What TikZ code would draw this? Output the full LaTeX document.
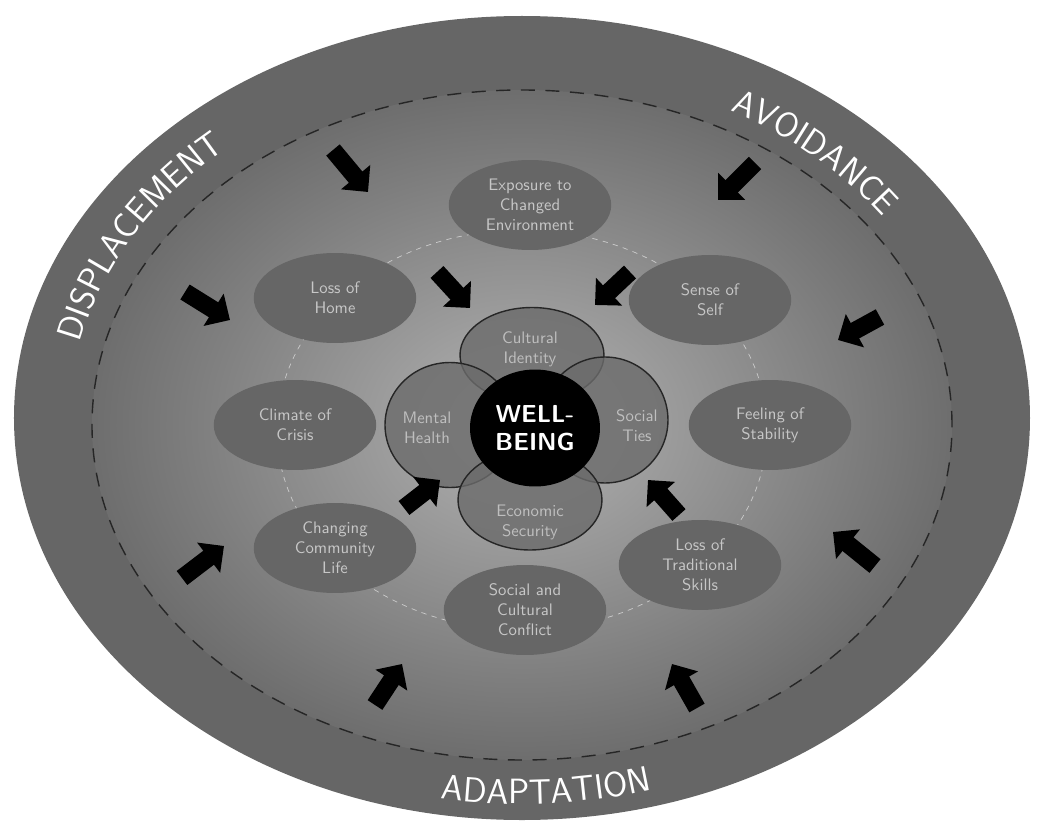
\documentclass[tikz,border=0pt]{standalone}
\usepackage{fontspec}
\usetikzlibrary{shapes.geometric,arrows.meta,decorations.text}

\newcommand\ringfont{\sffamily\fontsize{20}{24}\selectfont}

\begin{document}
\begin{tikzpicture}[x=0.02cm,y=0.02cm,
    sat/.style={ellipse,fill=black!60,minimum width=3.25cm,minimum height=1.8cm,inner sep=0pt,
        align=center,text=black!22,font=\sffamily\fontsize{9.5}{11.4}\selectfont},
    petal/.style={ellipse,fill=black!58,fill opacity=0.8,draw=black!85,thick,inner sep=0pt},
    petaltext/.style={align=center,text=black!25,font=\sffamily\fontsize{9.5}{11.4}\selectfont},
    core/.style={ellipse,fill=black,minimum width=2.6cm,minimum height=2.34cm,inner sep=0pt,
        align=center,text=white,font=\sffamily\bfseries\fontsize{14}{16}\selectfont},
    blockarrow/.style={line width=10pt,-{Triangle[width=21pt,length=11pt]}},
    ringtext/.style={decorate,decoration={text along path,text align=center,text color=white,text={#1}}}]

    \useasboundingbox (-522,-404) rectangle (516,418);

    % OUTER DISC
    \fill[black!60] (0,0) ellipse[x radius=508,y radius=402];
    \shade[inner color=black!30,outer color=black!57] (0,-7) ellipse[x radius=430,y radius=335];
    \draw[black!85,thick,dash pattern=on 8pt off 6pt] (0,-7) ellipse[x radius=430,y radius=335];
    \draw[black!20,dash pattern=on 3pt off 3pt] (0,-12) ellipse[x radius=245,y radius=200];

    % RING LABELS
    \path[ringtext={|\ringfont|DISPLACEMENT}] (176:452 and 356) arc[start angle=176,end angle=124,x radius=452,y radius=356];
    \path[ringtext={|\ringfont|AVOIDANCE}] (70:442 and 348) arc[start angle=70,end angle=26,x radius=442,y radius=348];
    \path[ringtext={|\ringfont|ADAPTATION}] (253:480 and 386) arc[start angle=253,end angle=293,x radius=480,y radius=386];

    % SATELLITES
    \node[sat] (expo) at (8,213) {Exposure to\\Changed\\Environment};
    \node[sat] (loss) at (-187,120) {Loss of\\Home};
    \node[sat] (self) at (188,118) {Sense of\\Self};
    \node[sat] (clim) at (-227,-7) {Climate of\\Crisis};
    \node[sat] (stab) at (248,-7) {Feeling of\\Stability};
    \node[sat] (comm) at (-187,-130) {Changing\\Community\\Life};
    \node[sat] (skil) at (178,-147) {Loss of\\Traditional\\Skills};
    \node[sat] (conf) at (3,-192) {Social and\\Cultural\\Conflict};

    % WELL-BEING
    \node[petal,minimum width=2.88cm,minimum height=1.9cm] (cult) at (10,63) {};
    \node[petal,minimum width=2.6cm,minimum height=2.5cm] (ment) at (-72,-7) {};
    \node[petal,minimum width=2.52cm,minimum height=2.52cm] (soc) at (83,-2) {};
    \node[petal,minimum width=2.88cm,minimum height=2cm] (econ) at (8,-82) {};
    \node[core] (well) at (13,-10) {WELL-\\BEING};

    \node[petaltext] (cultlbl) at (8,69) {Cultural\\Identity};
    \node[petaltext] (mentlbl) at (-95,-10) {Mental\\Health};
    \node[petaltext] (soclbl) at (115,-8) {Social\\Ties};
    \node[petaltext] (econlbl) at (8,-104) {Economic\\Security};

    % ARROWS
    \foreach \a/\b/\c/\d [count=\i] in {-189/268/-154/226,-337/126/-292/98,-340/-160/-298/-128,
        -147/-287/-120/-246,175/-290/150/-246,353/-148/311/-114,358/101/316/78,233/255/196/218,
        -85/146/-52/110,108/146/73/113,-118/-90/-82/-62,157/-97/126/-62}{
        \coordinate (tail\i) at (\a,\b);
        \coordinate (tip\i) at (\c,\d);
        \draw[blockarrow] (tail\i) -- (tip\i);
    }

\end{tikzpicture}
\end{document}
